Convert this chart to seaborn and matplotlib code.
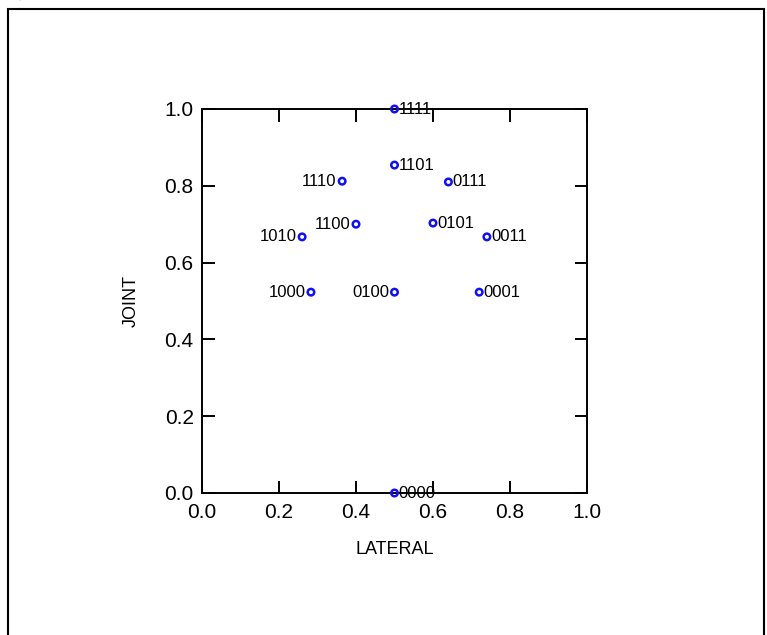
import matplotlib
matplotlib.use("Agg")
import matplotlib.pyplot as plt
import seaborn as sns
import pandas as pd
from matplotlib.patches import Rectangle

labels = ["1111", "1101", "1110", "0111", "1100", "0101", "1010", "0011",
          "1000", "0100", "0001", "0000"]
lateral = [0.50, 0.50, 0.364, 0.64, 0.40, 0.60, 0.26, 0.74, 0.283, 0.50, 0.72, 0.50]
joint = [1.00, 0.854, 0.812, 0.81, 0.70, 0.703, 0.667, 0.667, 0.523, 0.523, 0.523, 0.00]
side = ["R", "R", "L", "R", "L", "R", "L", "R", "L", "L", "R", "R"]
xticks = [0.0, 0.2, 0.4, 0.6, 0.8, 1.0]
yticks = [0.0, 0.2, 0.4, 0.6, 0.8, 1.0]

df = pd.DataFrame({"LATERAL": lateral, "JOINT": joint, "label": labels, "side": side})

sns.set_style("white")
plt.rcParams["font.family"] = ["Liberation Sans", "DejaVu Sans"]

fig = plt.figure(figsize=(7.67, 6.35), dpi=100)
ax = fig.add_axes([202 / 767, 1 - 493 / 635, 385 / 767, 384 / 635])

sns.scatterplot(data=df, x="LATERAL", y="JOINT", ax=ax, marker="o", s=22,
                facecolor="none", edgecolor="#1010f0", linewidth=1.8,
                clip_on=False, zorder=3)

for _, r in df.iterrows():
    if r["side"] == "R":
        ax.annotate(r["label"], (r["LATERAL"], r["JOINT"]), xytext=(3, 0),
                    textcoords="offset points", ha="left", va="center",
                    fontsize=12, color="black")
    else:
        ax.annotate(r["label"], (r["LATERAL"], r["JOINT"]), xytext=(-4, 0),
                    textcoords="offset points", ha="right", va="center",
                    fontsize=12, color="black")

ax.set_xlim(0, 1)
ax.set_ylim(0, 1)
ax.set_xticks(xticks)
ax.set_yticks(yticks)
ax.set_xticklabels([f"{v:.1f}" for v in xticks])
ax.set_yticklabels([f"{v:.1f}" for v in yticks])
ax.tick_params(direction="in", length=9, width=1.4, top=True, right=True,
               bottom=True, left=True, labelsize=15, colors="black")
ax.tick_params(axis="x", pad=7)
ax.tick_params(axis="y", pad=6)
for s in ax.spines.values():
    s.set_linewidth(1.4)
    s.set_color("black")
ax.set_xlabel("LATERAL", fontsize=13, labelpad=14, color="black")
ax.set_ylabel("JOINT", fontsize=13, labelpad=18, color="black")

fig.patches.append(Rectangle((8 / 767, -0.05), (764 - 8) / 767, 1 - 9 / 635 + 0.05,
                             transform=fig.transFigure, fill=False,
                             edgecolor="black", linewidth=1.5))
fig.text(8 / 767, 1 + 8 / 635, "1).", fontsize=16, ha="left", va="center",
         family="Liberation Serif")

fig.savefig("out.png", dpi=100)
